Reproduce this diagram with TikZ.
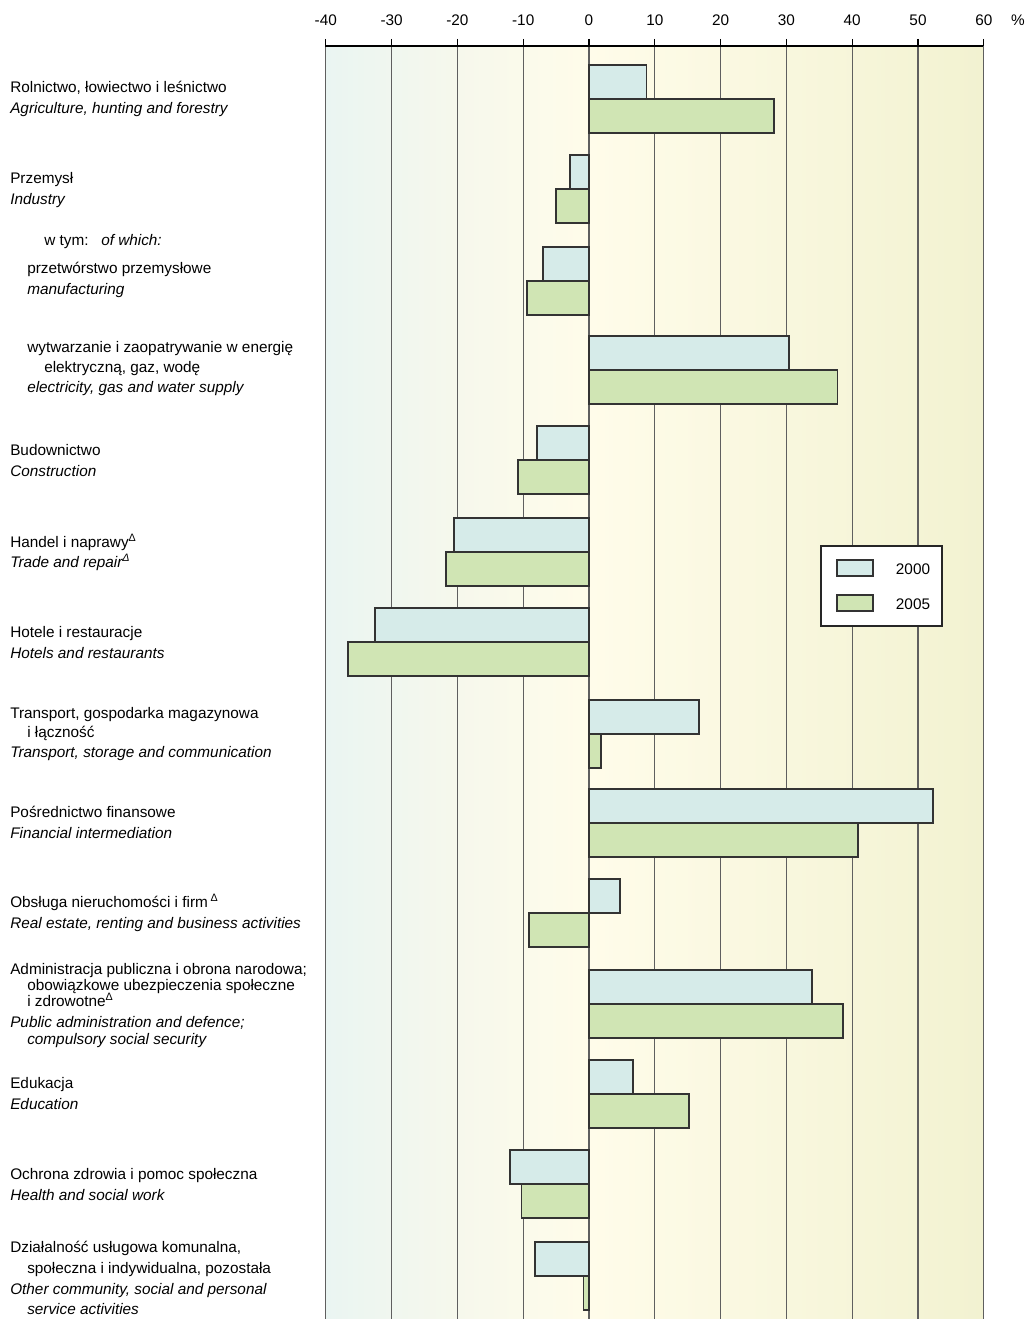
\documentclass[tikz,border=0pt]{standalone}
\usepackage{fontspec}
\setmainfont{Liberation Sans}
\usepackage{tikz}

\definecolor{bgBlue}{RGB}{234,245,242}
\definecolor{bgMid}{RGB}{246,248,236}
\definecolor{bgCream}{RGB}{255,252,234}
\definecolor{bgOlive}{RGB}{242,242,209}
\definecolor{fillA}{RGB}{214,235,233}
\definecolor{fillB}{RGB}{208,229,180}
\definecolor{gridGrey}{RGB}{95,95,95}

\newcommand{\tri}{\textsuperscript{Δ}}

\tikzset{
  lbl/.style={anchor=base west, inner sep=0pt, font=\fontsize{11.5}{13.8}\selectfont},
  ticklbl/.style={anchor=base, inner sep=0pt, font=\fontsize{11.5}{13.8}\selectfont},
  barA/.style={draw=black!80, line width=1.1pt, fill=fillA},
  barB/.style={draw=black!80, line width=1.1pt, fill=fillB},
  gridline/.style={draw=gridGrey, line width=0.8pt}
}

\begin{document}
\begin{tikzpicture}[x=0.75pt,y=0.75pt,yscale=-1,xscale=1]
    \useasboundingbox (0,0) rectangle (1027,1319);

    %Shape: background gradient
    \shade[left color=bgBlue, right color=bgMid] (325,46) rectangle (457,1319);
    \shade[left color=bgMid, right color=bgCream] (457,46) rectangle (589,1319);
    \shade[left color=bgCream, right color=bgOlive] (589,46) rectangle (983,1319);

    %Grid and axis
    \foreach \v in {-40,-30,...,60} {
      \draw[gridline] ({589+6.58*\v},46) -- ({589+6.58*\v},1319);
      \draw[black, line width=0.8pt] ({589+6.58*\v},39) -- ({589+6.58*\v},46);
      \node[ticklbl] (tick\v) at ({589+6.58*\v},26) {\v};
    }
    \draw[black, line width=0.8pt] (325,46) -- (983,46);
    \node[ticklbl] (pct) at (1018,26) {\%};

    %Bars: top / 2000 / 2005
    \foreach \yt/\a/\b in {65/8.7/28.1, 155/-2.9/-5.0, 247/-7.0/-9.4, 336/30.4/37.8,
        426/-7.9/-10.8, 518/-20.5/-21.7, 608/-32.5/-36.6, 700/16.7/1.8,
        789/52.3/40.9, 879/4.7/-9.1, 970/33.9/38.6, 1060/6.7/15.2,
        1150/-12.0/-10.3, 1242/-8.2/-0.8} {
      \draw[barA] (589,\yt) rectangle ({589+6.58*(\a)},{\yt+34});
      \draw[barB] (589,{\yt+34}) rectangle ({589+6.58*(\b)},{\yt+68});
    }

    %Legend
    \draw[draw=black!85, line width=0.8pt, fill=white] (821,546) rectangle (942,626);
    \draw[barA, line width=0.9pt] (837,560) rectangle (873,576);
    \draw[barB, line width=0.9pt] (837,595) rectangle (873,611);
    \node[ticklbl] (leg2000) at (913,574) {2000};
    \node[ticklbl] (leg2005) at (913,609) {2005};

    % Text Nodes
    \foreach \lx/\ly/\lt [count=\i] in {
        10/93/{Rolnictwo, łowiectwo i leśnictwo},
        10/114/{\itshape Agriculture, hunting and forestry},
        10/184/{Przemysł},
        10/205/{\itshape Industry},
        44/246/{w tym:},
        101/246/{\itshape of which:},
        27/274/{przetwórstwo przemysłowe},
        27/295/{\itshape manufacturing},
        27/352/{wytwarzanie i zaopatrywanie w energię},
        44/372/{elektryczną, gaz, wodę},
        27/392/{\itshape electricity, gas and water supply},
        10/455/{Budownictwo},
        10/476/{\itshape Construction},
        10/547/{Handel i naprawy\tri},
        10/567/{\itshape Trade and repair\tri},
        10/637/{Hotele i restauracje},
        10/658/{\itshape Hotels and restaurants},
        10/718/{Transport, gospodarka magazynowa},
        27/737/{i łączność},
        10/757/{\itshape Transport, storage and communication},
        10/817/{Pośrednictwo finansowe},
        10/838/{\itshape Financial intermediation},
        10/907/{Obsługa nieruchomości i firm\,\tri},
        10/928/{\itshape Real estate, renting and business activities},
        10/974/{Administracja publiczna i obrona narodowa;},
        27/990/{obowiązkowe ubezpieczenia społeczne},
        27/1006/{i zdrowotne\tri},
        10/1027/{\itshape Public administration and defence;},
        27/1044/{\itshape compulsory social security},
        10/1088/{Edukacja},
        10/1109/{\itshape Education},
        10/1179/{Ochrona zdrowia i pomoc społeczna},
        10/1200/{\itshape Health and social work},
        10/1252/{Działalność usługowa komunalna,},
        27/1273/{społeczna i indywidualna, pozostała},
        10/1294/{\itshape Other community, social and personal},
        27/1314/{\itshape service activities}} {
      \node[lbl] (lbl\i) at (\lx,\ly) {\lt};
    }
\end{tikzpicture}
\end{document}
